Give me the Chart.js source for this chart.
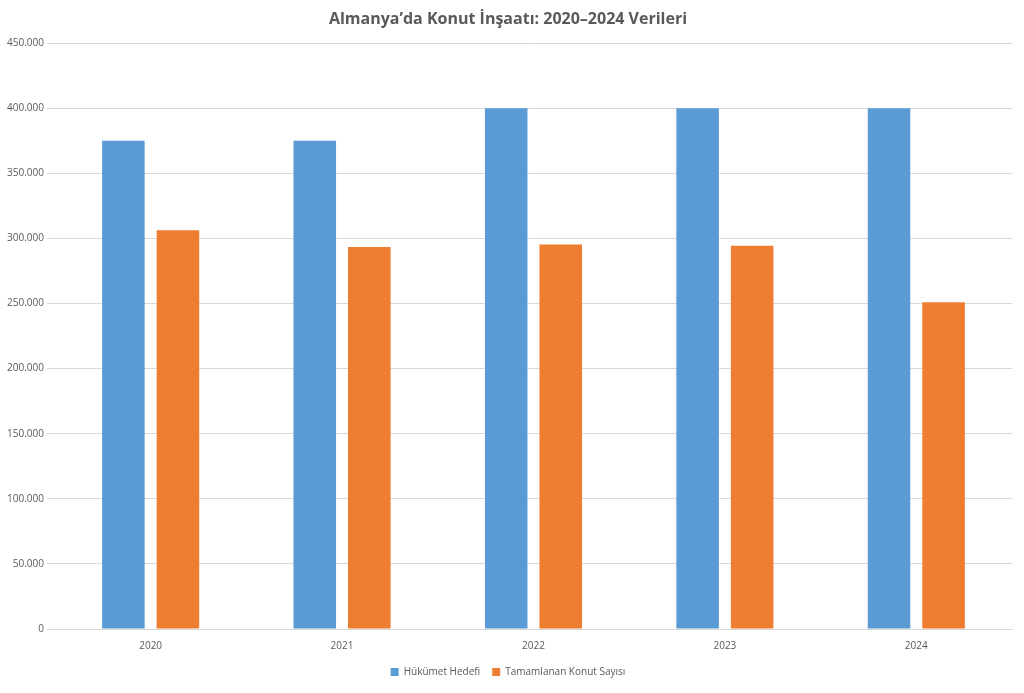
<!DOCTYPE html>
<html><head><meta charset="utf-8">
<script src="https://cdn.jsdelivr.net/npm/chart.js@4"></script>
<style>html,body{margin:0;background:#fff}#w{width:1024px;height:693px}</style>
</head><body><div id="w"><canvas id="c"></canvas></div>
<script>
const categories=["2020","2021","2022","2023","2024"];
const hedef=[375000,375000,400000,400000,400000];
const tamamlanan=[306376,293393,295275,294400,251000];
const seriesNames=["Hükümet Hedefi","Tamamlanan Konut Sayısı"];
const fmt=v=>v.toLocaleString('de-DE');
new Chart(document.getElementById('c'),{type:'bar',
data:{labels:categories,datasets:[
{label:seriesNames[0],data:hedef,backgroundColor:'#5B9BD5',barPercentage:0.78,categoryPercentage:0.57},
{label:seriesNames[1],data:tamamlanan,backgroundColor:'#ED7D31',barPercentage:0.78,categoryPercentage:0.57}]},
options:{responsive:true,maintainAspectRatio:false,animation:false,
layout:{padding:{left:4,right:12,top:6,bottom:6}},
plugins:{title:{display:true,text:'Almanya’da Konut İnşaatı: 2020–2024 Verileri',color:'#595959',font:{family:'Open Sans',size:16,weight:'bold'},padding:{top:4,bottom:14}},
legend:{position:'bottom',labels:{boxWidth:8,boxHeight:8,color:'#595959',font:{family:'Open Sans',size:10},padding:12}},tooltip:{enabled:false}},
scales:{x:{grid:{display:false},border:{color:'#d9d9d9'},ticks:{color:'#595959',font:{family:'Open Sans',size:10}}},
y:{min:0,max:450000,ticks:{stepSize:50000,color:'#595959',font:{family:'Open Sans',size:10},callback:v=>fmt(v)},grid:{color:'#d9d9d9'},border:{display:false}}}}});
</script></body></html>
